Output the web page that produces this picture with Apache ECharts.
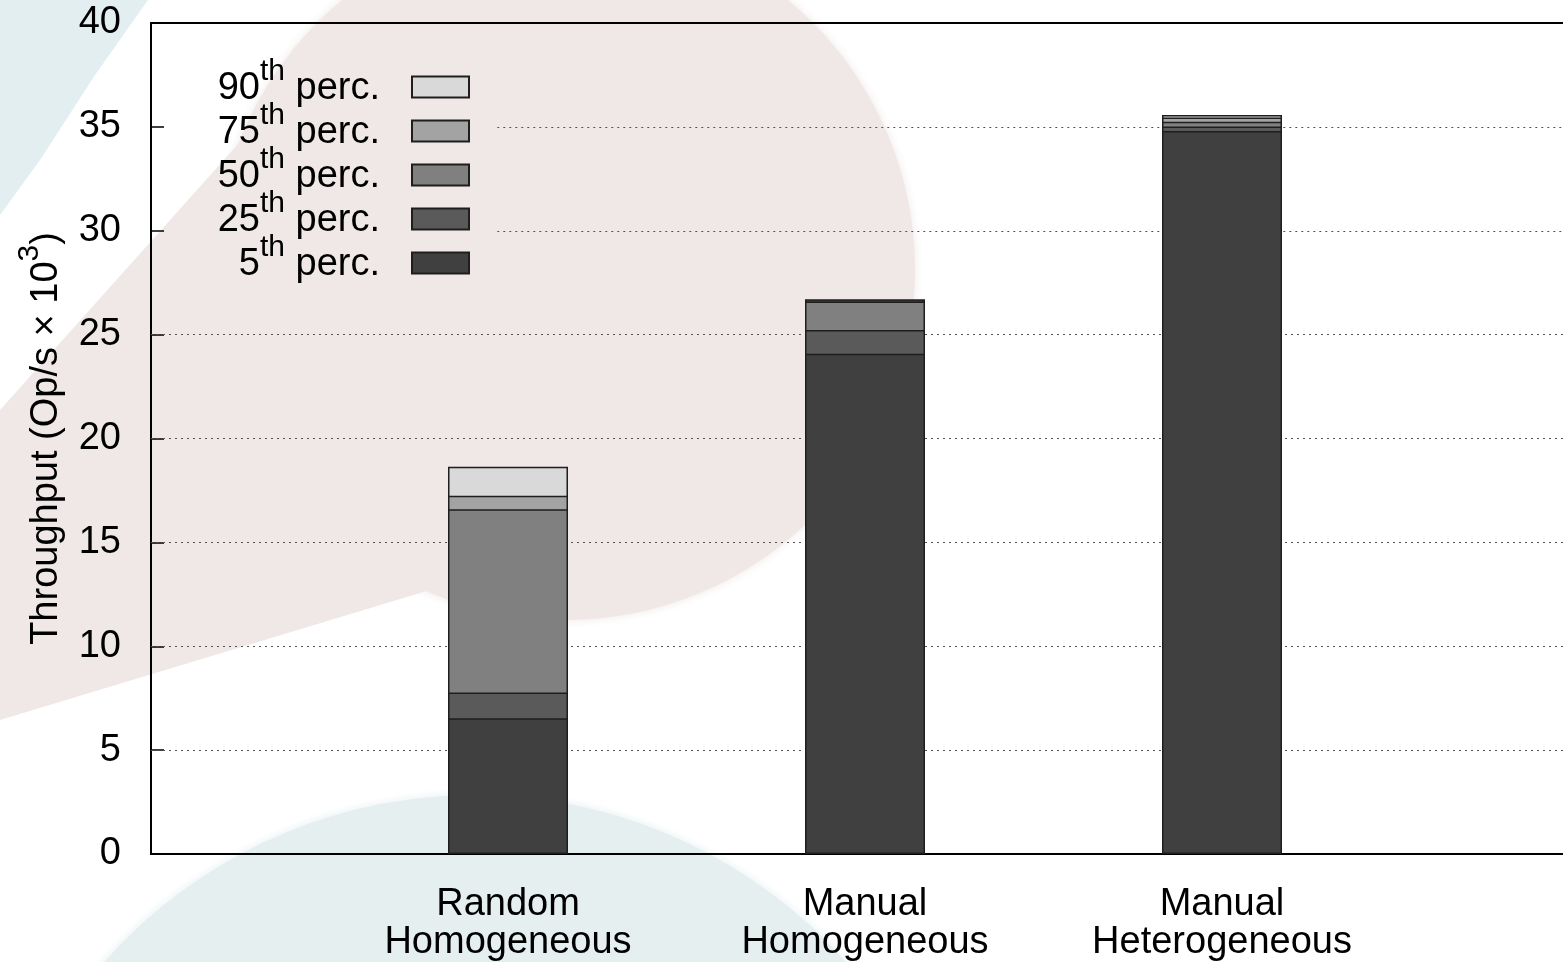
<!DOCTYPE html>
<html>
<head>
<meta charset="utf-8">
<script src="https://cdn.jsdelivr.net/npm/echarts@6/dist/echarts.min.js"></script>
<style>
  html, body { margin: 0; padding: 0; background: #ffffff; }
  #chart { width: 1563px; height: 962px; }
</style>
</head>
<body>
<div id="chart"></div>
<script>
// Throughput percentiles per placement strategy (Op/s x 10^3)
const categories = ['Random\nHomogeneous', 'Manual\nHomogeneous', 'Manual\nHeterogeneous'];
const percentiles = ['90', '75', '50', '25', '5'];
const p90 = [18.64, 26.70, 35.57];
const p75 = [17.25, 26.65, 35.45];
const p50 = [16.60, 26.60, 35.25];
const p25 = [7.77, 25.22, 35.02];
const p5  = [6.54, 24.08, 34.80];
const gridLevels = [5, 10, 15, 20, 25, 30, 35];

const seriesValues = [p90, p75, p50, p25, p5];
const fills = ['#d9d9d9', '#a3a3a3', '#808080', '#5a5a5a', '#404040'];
const FONT = '"Liberation Sans", Arial, Helvetica, sans-serif';
// gridlines that pass behind the key begin to the right of it (x-axis units)
const KEY_CLEAR_X = -0.03;

// superscript text styles: both tokens share one box height so the
// raised "th"/"3" sits above the main line whatever the alignment rule
const mainTok = { fontFamily: FONT, fontSize: 38, lineHeight: 38, padding: [13, 0, 9, 0], color: '#000' };
const supTok  = { fontFamily: FONT, fontSize: 30, lineHeight: 30, padding: [0, 0, 30, 0], color: '#000' };

const chart = echarts.init(document.getElementById('chart'), null, { renderer: 'canvas' });

const barSeries = percentiles.map((p, i) => ({
  name: p + 'th perc.',
  type: 'bar',
  barWidth: 120,
  barGap: '-100%',
  z: 2,
  itemStyle: { color: fills[i], borderColor: '#1e1e1e', borderWidth: 1.5 },
  data: seriesValues[i].map((v, j) => [j, v])
}));

const gridSeries = {
  name: 'grid',
  type: 'line',
  data: [],
  z: 1,
  silent: true,
  markLine: {
    z: 1,
    silent: true,
    symbol: 'none',
    label: { show: false },
    lineStyle: { type: [2, 4], color: '#555555', width: 1 },
    data: gridLevels.map(v => [
      { coord: [v >= 30 ? KEY_CLEAR_X : -1, v] },
      { coord: [3, v] }
    ])
  }
};

const bgA = '#e3eef0';
const bgB = '#efe8e7';
const bgC = '#e5eff0';

chart.setOption({
  animation: false,
  backgroundColor: '#ffffff',
  textStyle: { fontFamily: FONT, color: '#000' },
  graphic: {
    elements: [
      { type: 'polygon', z: -10, silent: true,
        shape: { points: [[0, 0], [148, 0], [95, 75], [40, 160], [0, 215]] },
        style: { fill: bgA } },
      { type: 'circle', z: -10, silent: true,
        shape: { cx: 565, cy: 270, r: 350 },
        style: { fill: bgB, shadowBlur: 10, shadowColor: bgB } },
      { type: 'polygon', z: -10, silent: true,
        shape: { points: [[367, 0], [0, 410], [0, 720], [430, 590]] },
        style: { fill: bgB } },
      { type: 'circle', z: -10, silent: true,
        shape: { cx: 475, cy: 1290, r: 495 },
        style: { fill: bgC, shadowBlur: 10, shadowColor: bgC } }
    ]
  },
  grid: {
    left: 151, top: 23, width: 1428, bottom: 108,
    outerBoundsMode: 'none',
    containLabel: false,
    show: true, borderColor: '#000', borderWidth: 2, backgroundColor: 'transparent'
  },
  legend: {
    orient: 'vertical',
    right: 1093,
    top: 57,
    padding: 0,
    align: 'right',
    icon: 'rect',
    itemWidth: 57,
    itemHeight: 21,
    itemGap: -16,
    selectedMode: false,
    data: barSeries.map(s => s.name),
    formatter: name => {
      const num = name.split('th')[0];
      return '{n|' + num + '}{s|th}{n| perc.}';
    },
    textStyle: {
      fontFamily: FONT,
      color: '#000',
      padding: [0, 27, 0, 0],
      rich: { n: mainTok, s: supTok }
    }
  },
  xAxis: {
    type: 'value',
    min: -1, max: 3, interval: 1,
    axisLine: { show: true, onZero: false, lineStyle: { color: '#000', width: 2 } },
    axisTick: { show: false },
    splitLine: { show: false },
    axisLabel: {
      margin: 32,
      fontSize: 38,
      lineHeight: 38,
      color: '#000',
      fontFamily: FONT,
      formatter: v => categories[v] ?? ''
    }
  },
  yAxis: {
    type: 'value',
    min: 0, max: 40, interval: 5,
    name: '{a|Throughput (Op/s × 10}{s|3}{a|)}',
    nameLocation: 'middle',
    nameGap: 87,
    nameMoveOverlap: false,
    nameTextStyle: {
      fontFamily: FONT,
      color: '#000',
      rich: { a: mainTok, s: supTok }
    },
    axisLine: { show: true, onZero: false, lineStyle: { color: '#000', width: 2 } },
    axisTick: { show: true, inside: true, length: 13, lineStyle: { color: '#000', width: 1.5 } },
    splitLine: { show: false },
    axisLabel: { margin: 30, fontSize: 38, color: '#000', fontFamily: FONT }
  },
  series: [gridSeries, ...barSeries]
});
</script>
</body>
</html>
